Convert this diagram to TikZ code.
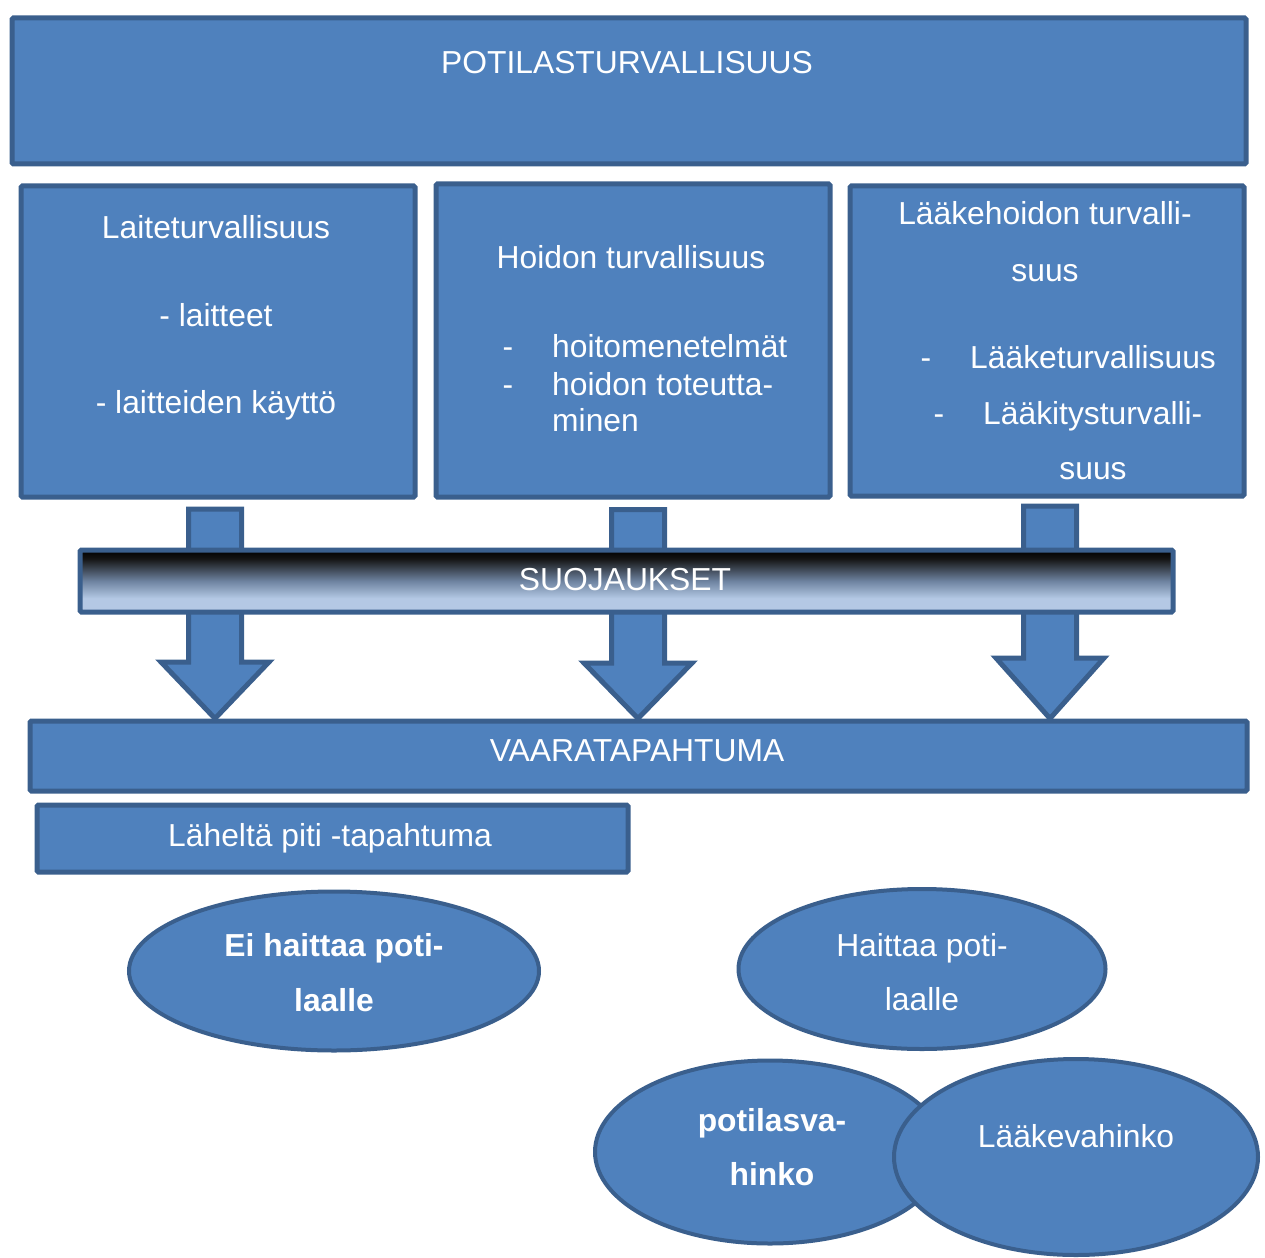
\documentclass[tikz,border=0pt]{standalone}
\usepackage{fontspec}
\setmainfont{Liberation Sans}
\usetikzlibrary{calc,shapes.geometric}
\definecolor{fillc}{HTML}{4F81BD}
\definecolor{bordc}{HTML}{3A5F8D}
\definecolor{lightb}{HTML}{B4C8E4}
\definecolor{midb}{HTML}{6E83A0}
\pgfdeclareverticalshading{suojshade}{100bp}{color(0bp)=(lightb); color(25bp)=(lightb); color(36bp)=(lightb); color(50bp)=(midb); color(68bp)=(black!92); color(75bp)=(black); color(100bp)=(black)}
\tikzset{
  box/.style={draw=bordc, fill=fillc, line width=5pt, rounded corners=1.5pt, inner sep=0pt},
  oval/.style={ellipse, draw=bordc, fill=fillc, line width=4pt, inner sep=0pt},
  txt/.style={text=white, font=\fontsize{31.8}{38}\selectfont, inner sep=0pt, anchor=base},
  btxt/.style={txt, font=\fontsize{31.8}{38}\selectfont\bfseries},
  ltxt/.style={txt, anchor=base west},
}
\begin{document}
\begin{tikzpicture}[x=1pt,y=-1pt]
\useasboundingbox (0,0) rectangle (1265,1257);

% main frame and the three areas
\node[box, anchor=north west, minimum width=1234, minimum height=146] (top) at (9.5,15.5) {};
\node[box, anchor=north west, minimum width=394, minimum height=311] (b1) at (18.5,183.5) {};
\node[box, anchor=north west, minimum width=394, minimum height=313] (b2) at (433.5,181.5) {};
\node[box, anchor=north west, minimum width=394, minimum height=310] (b3) at (847.5,183.5) {};

% event bar (drawn after the arrows so the tips meet its edge)
\node[box, anchor=north west, minimum width=1217, minimum height=70] (vaara) at (27.5,718.5) {};

% block arrows through the barrier
\coordinate (t1) at (215,509);
\coordinate (h1) at (215,662);
\coordinate (t2) at (638,509.5);
\coordinate (h2) at (638,663);
\coordinate (t3) at (1050,506);
\coordinate (h3) at (1050,658);
\foreach \i in {1,2,3}{
  \draw[box, rounded corners=0pt, line join=miter]
    ($(t\i)+(-26.5,0)$) -- ($(t\i)+(26.5,0)$) -- ($(h\i)+(26.5,0)$) -- ($(h\i)+(54,0)$)
    -- (t\i |- vaara.north) -- ($(h\i)+(-54,0)$) -- ($(h\i)+(-26.5,0)$) -- cycle;
}

% barrier
\node[draw=bordc, line width=5pt, rounded corners=1.5pt, shading=suojshade, anchor=north west, minimum width=1093, minimum height=62, inner sep=0pt] (suoj) at (77.5,547.5) {};
\node[txt, anchor=center] (suojt) at (625,580) {SUOJAUKSET};

% near miss
\node[box, anchor=north west, minimum width=591, minimum height=67] (lahelta) at (34.5,802.5) {};

% outcomes
\node[oval, minimum width=410, minimum height=159] (e1) at (334,971) {};
\node[oval, minimum width=367, minimum height=160] (e2) at (922,969) {};
\node[oval, minimum width=350, minimum height=183] (e3) at (770,1152) {};
\node[oval, minimum width=364, minimum height=196] (e4) at (1076,1157) {};

% texts
\node[txt] (ttop) at (627,74) {POTILASTURVALLISUUS};

\node[txt] (b1a) at (216,239) {Laiteturvallisuus};
\node[txt] (b1b) at (216,326) {- laitteet};
\node[txt] (b1c) at (216,413) {- laitteiden käyttö};

\node[txt] (b2a) at (631,269) {Hoidon turvallisuus};
\node[txt] (b2d1) at (508,357) {-};
\node[ltxt] (b2b) at (552,357) {hoitomenetelmät};
\node[txt] (b2d2) at (508,395) {-};
\node[ltxt] (b2c) at (552,395) {hoidon toteutta-};
\node[ltxt] (b2e) at (552,431) {minen};

\node[txt] (b3a) at (1045,225) {Lääkehoidon turvalli-};
\node[txt] (b3b) at (1045,281) {suus};
\node[txt] (b3d1) at (926,368) {-};
\node[ltxt] (b3c) at (970,368) {Lääketurvallisuus};
\node[txt] (b3d2) at (939,424) {-};
\node[ltxt] (b3e) at (983,424) {Lääkitysturvalli-};
\node[txt] (b3f) at (1093,479) {suus};

\node[txt] (vt) at (637,761) {VAARATAPAHTUMA};
\node[txt] (lt) at (330,846) {Läheltä piti -tapahtuma};

\node[btxt] (e1a) at (334,956) {Ei haittaa poti-};
\node[btxt] (e1b) at (334,1011) {laalle};
\node[txt] (e2a) at (922,956) {Haittaa poti-};
\node[txt] (e2b) at (922,1010) {laalle};
\node[btxt] (e3a) at (772,1131) {potilasva-};
\node[btxt] (e3b) at (772,1185) {hinko};
\node[txt] (e4a) at (1076,1147) {Lääkevahinko};
\end{tikzpicture}
\end{document}
